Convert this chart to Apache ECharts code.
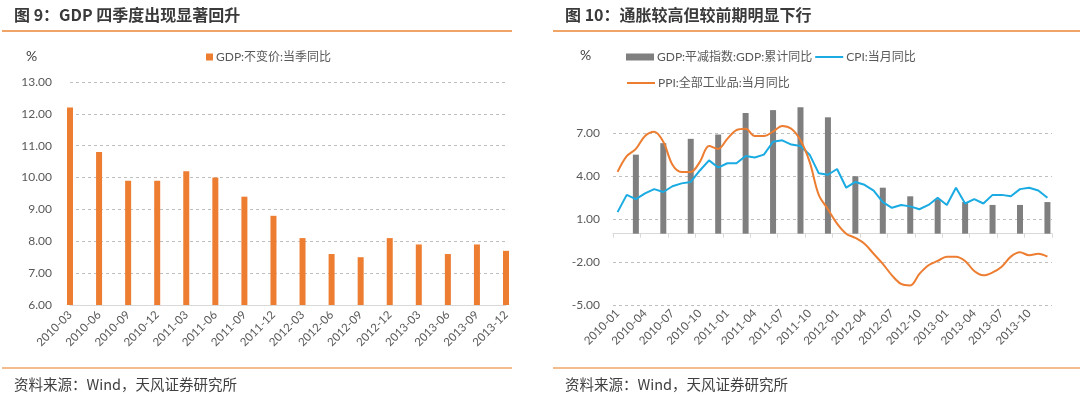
<!DOCTYPE html>
<html>
<head>
<meta charset="utf-8">
<script src="https://cdn.jsdelivr.net/npm/echarts@6/dist/echarts.min.js"></script>
<style>
html,body{margin:0;padding:0;background:#fff;}
#chart{width:1080px;height:396px;}
</style>
</head>
<body>
<div id="chart"></div>
<script>
// ---- Left chart data ----
const quarterLabels = ['2010-03','2010-06','2010-09','2010-12','2011-03','2011-06','2011-09','2011-12',
  '2012-03','2012-06','2012-09','2012-12','2013-03','2013-06','2013-09','2013-12'];
const gdpYoY = [12.2,10.8,9.9,9.9,10.2,10.0,9.4,8.8,8.1,7.6,7.5,8.1,7.9,7.6,7.9,7.7];

// ---- Right chart data ----
const monthLabels = [
  '2010-01','2010-02','2010-03','2010-04','2010-05','2010-06','2010-07','2010-08','2010-09','2010-10','2010-11','2010-12',
  '2011-01','2011-02','2011-03','2011-04','2011-05','2011-06','2011-07','2011-08','2011-09','2011-10','2011-11','2011-12',
  '2012-01','2012-02','2012-03','2012-04','2012-05','2012-06','2012-07','2012-08','2012-09','2012-10','2012-11','2012-12',
  '2013-01','2013-02','2013-03','2013-04','2013-05','2013-06','2013-07','2013-08','2013-09','2013-10','2013-11','2013-12'];
const cpiYoY = [
  1.5,2.7,2.4,2.8,3.1,2.9,3.3,3.5,3.6,4.4,5.1,4.6,
  4.9,4.9,5.4,5.3,5.5,6.4,6.5,6.2,6.1,5.5,4.2,4.1,
  4.5,3.2,3.6,3.4,3.0,2.2,1.8,2.0,1.9,1.7,2.0,2.5,
  2.0,3.2,2.1,2.4,2.1,2.7,2.7,2.6,3.1,3.2,3.0,2.5];
const ppiYoY = [
  4.3,5.4,5.9,6.8,7.1,6.4,4.8,4.3,4.3,5.0,6.1,5.9,
  6.6,7.2,7.3,6.8,6.8,7.1,7.5,7.3,6.5,5.0,2.7,1.7,
  0.7,0.0,-0.3,-0.7,-1.4,-2.1,-2.9,-3.5,-3.6,-2.8,-2.2,-1.9,
  -1.6,-1.6,-1.9,-2.6,-2.9,-2.7,-2.3,-1.6,-1.3,-1.5,-1.4,-1.6];
const deflatorQuarters = ['2010-03','2010-06','2010-09','2010-12','2011-03','2011-06','2011-09','2011-12',
  '2012-03','2012-06','2012-09','2012-12','2013-03','2013-06','2013-09','2013-12'];
const deflatorYoY = [5.5,6.3,6.6,6.9,8.4,8.6,8.8,8.1,4.0,3.2,2.6,2.4,2.2,2.0,2.0,2.2];

const deflatorSeries = monthLabels.map(m => {
  const i = deflatorQuarters.indexOf(m);
  return i >= 0 ? deflatorYoY[i] : null;
});

const NUM_FONT = "Lato, 'Noto Sans CJK SC', sans-serif";
const LABEL_COLOR = '#595959';
const ORANGE = '#ED7D31';
const BLUE = '#1AABE3';
const SEP = '#F0A466';

const chart = echarts.init(document.getElementById('chart'), null, {renderer: 'canvas'});

const legendText = {color: LABEL_COLOR, fontSize: 12, fontFamily: NUM_FONT, padding: [0, 0, 0, -2]};

chart.setOption({
  animation: false,
  textStyle: {fontFamily: NUM_FONT},
  grid: [
    {left: 70, width: 436, top: 82, bottom: 91},
    {left: 613, right: 28, top: 90, bottom: 90.5}
  ],
  legend: [
    {
      left: 201, top: 46, itemWidth: 7, itemHeight: 7, itemGap: 10,
      textStyle: legendText,
      data: [{name: 'GDP:不变价:当季同比', icon: 'rect'}]
    },
    {
      left: 621, top: 46, itemWidth: 28, itemHeight: 7, itemGap: 2,
      textStyle: legendText,
      data: [{name: 'GDP:平减指数:GDP:累计同比', icon: 'rect'},
             {name: 'CPI:当月同比', itemStyle: {opacity: 0}}]
    },
    {
      left: 621, top: 72, itemWidth: 28, itemHeight: 7, itemGap: 2,
      textStyle: legendText,
      data: [{name: 'PPI:全部工业品:当月同比', itemStyle: {opacity: 0}}]
    }
  ],
  xAxis: [
    {
      gridIndex: 0, type: 'category', data: quarterLabels, boundaryGap: false,
      axisLine: {lineStyle: {color: '#D9D9D9'}},
      axisTick: {show: false},
      axisLabel: {interval: 0, rotate: 45, color: LABEL_COLOR, fontSize: 11.5, margin: 8, fontFamily: NUM_FONT},
      splitLine: {show: false}
    },
    {
      gridIndex: 1, type: 'category', data: monthLabels, boundaryGap: true, position: 'bottom',
      axisLine: {onZero: true, lineStyle: {color: '#D9D9D9'}},
      axisTick: {show: true, interval: 2, length: 4, lineStyle: {color: '#D9D9D9'}},
      axisLabel: {show: false},
      splitLine: {show: false}
    },
    {
      gridIndex: 1, type: 'category', data: monthLabels, boundaryGap: true, position: 'bottom',
      axisLine: {show: false, onZero: false},
      axisTick: {show: false},
      axisLabel: {interval: 2, rotate: 45, color: LABEL_COLOR, fontSize: 11.5, margin: 6, fontFamily: NUM_FONT},
      splitLine: {show: false}
    }
  ],
  yAxis: [
    {
      gridIndex: 0, type: 'value', min: 6, max: 13, interval: 1,
      axisLine: {show: false}, axisTick: {show: false},
      axisLabel: {color: LABEL_COLOR, fontSize: 12, margin: 18, formatter: v => v.toFixed(2), fontFamily: NUM_FONT},
      splitLine: {show: true, lineStyle: {color: '#BFBFBF', type: [3, 3], width: 1}}
    },
    {
      gridIndex: 1, type: 'value', min: -5, max: 10, interval: 3,
      axisLine: {show: false}, axisTick: {show: false},
      axisLabel: {color: LABEL_COLOR, fontSize: 12, margin: 13, showMaxLabel: false,
        formatter: v => v.toFixed(2), fontFamily: NUM_FONT},
      splitLine: {show: true, showMaxLine: false, lineStyle: {color: '#BFBFBF', type: [3, 3], width: 1}}
    }
  ],
  series: [
    {
      name: 'GDP:不变价:当季同比', type: 'bar', xAxisIndex: 0, yAxisIndex: 0,
      data: gdpYoY, barWidth: 6, itemStyle: {color: ORANGE}
    },
    {
      name: 'GDP:平减指数:GDP:累计同比', type: 'bar', xAxisIndex: 1, yAxisIndex: 1,
      data: deflatorSeries, barWidth: 6, itemStyle: {color: '#7F7F7F'}
    },
    {
      name: 'CPI:当月同比', type: 'line', xAxisIndex: 1, yAxisIndex: 1,
      data: cpiYoY, symbol: 'none', lineStyle: {color: BLUE, width: 2}, itemStyle: {color: BLUE}
    },
    {
      name: 'PPI:全部工业品:当月同比', type: 'line', xAxisIndex: 1, yAxisIndex: 1,
      data: ppiYoY, symbol: 'none', smooth: 0.35, lineStyle: {color: ORANGE, width: 2}, itemStyle: {color: ORANGE}
    }
  ],
  graphic: [
    {type: 'text', x: 14, y: 15, style: {text: '图 9：GDP 四季度出现显著回升', font: "bold 16px 'Noto Sans CJK SC', sans-serif", fill: '#3A3A3A', verticalAlign: 'middle'}},
    {type: 'text', x: 565, y: 15, style: {text: '图 10：通胀较高但较前期明显下行', font: "bold 16px 'Noto Sans CJK SC', sans-serif", fill: '#3A3A3A', verticalAlign: 'middle'}},
    {type: 'line', shape: {x1: 2, y1: 31, x2: 512, y2: 31}, style: {stroke: SEP, lineWidth: 2}},
    {type: 'line', shape: {x1: 553, y1: 31, x2: 1080, y2: 31}, style: {stroke: SEP, lineWidth: 2}},
    {type: 'line', shape: {x1: 2, y1: 368, x2: 512, y2: 368}, style: {stroke: SEP, lineWidth: 1.5}},
    {type: 'line', shape: {x1: 553, y1: 368, x2: 1080, y2: 368}, style: {stroke: SEP, lineWidth: 1.5}},
    {type: 'text', x: 26, y: 56, style: {text: '%', font: "14px Lato, sans-serif", fill: '#404040', verticalAlign: 'middle'}},
    {type: 'text', x: 580, y: 55, style: {text: '%', font: "14px Lato, sans-serif", fill: '#404040', verticalAlign: 'middle'}},
    {type: 'text', x: 14, y: 384, style: {text: '资料来源：Wind，天风证券研究所', font: "14.5px 'Noto Sans CJK SC', sans-serif", fill: '#404040', verticalAlign: 'middle'}},
    {type: 'text', x: 565, y: 384, style: {text: '资料来源：Wind，天风证券研究所', font: "14.5px 'Noto Sans CJK SC', sans-serif", fill: '#404040', verticalAlign: 'middle'}}
  ]
});
</script>
</body>
</html>
